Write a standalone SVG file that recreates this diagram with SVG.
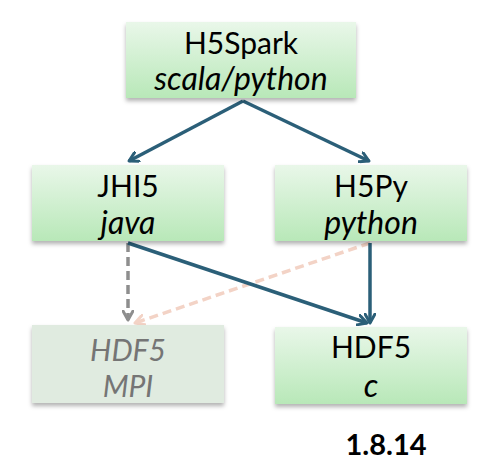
<svg xmlns="http://www.w3.org/2000/svg" width="488" height="474" viewBox="0 0 488 474">
<defs>
<linearGradient id="g" x1="0" y1="0" x2="0" y2="1">
<stop offset="0" stop-color="#e9f7e9"/>
<stop offset="1" stop-color="#b8e8b8"/>
</linearGradient>
<filter id="sh" x="-10%" y="-10%" width="120%" height="130%">
<feDropShadow dx="0" dy="3" stdDeviation="2" flood-color="#000" flood-opacity="0.3"/>
</filter>
<marker id="ah" markerWidth="12" markerHeight="12" refX="10" refY="6" orient="auto" markerUnits="userSpaceOnUse">
<path d="M1,1 L10,6 L1,11" fill="none" stroke="#2b5f78" stroke-width="3" stroke-linecap="round" stroke-linejoin="round"/>
</marker>
<marker id="ahg" markerWidth="12" markerHeight="12" refX="10" refY="6" orient="auto" markerUnits="userSpaceOnUse">
<path d="M1,1 L10,6 L1,11" fill="none" stroke="#8e8e8e" stroke-width="3" stroke-linecap="round" stroke-linejoin="round"/>
</marker>
<marker id="ahp" markerWidth="12" markerHeight="12" refX="10" refY="6" orient="auto" markerUnits="userSpaceOnUse">
<path d="M1,1 L10,6 L1,11" fill="none" stroke="#f3d3c6" stroke-width="3" stroke-linecap="round" stroke-linejoin="round"/>
</marker>
</defs>
<style>
.box{fill:url(#g);filter:url(#sh);}
.mpi{fill:#e0ebe0;filter:url(#sh);}
text{font-family:Lato,"Liberation Sans",sans-serif;font-size:30px;text-anchor:middle;fill:#000;}
.it{font-style:italic;font-size:32px;}
.gr{fill:#757575;font-size:30px;}
.c{fill:none;stroke:#2b5f78;stroke-width:3.5;}
.ver{font-size:29px;font-weight:bold;}
</style>
<g id="connectors">
<line class="c" x1="243" y1="101" x2="129" y2="161" marker-end="url(#ah)"/>
<line class="c" x1="243" y1="101" x2="369" y2="161" marker-end="url(#ah)"/>
<line x1="128" y1="243" x2="128" y2="320" stroke="#8e8e8e" stroke-width="3.5" stroke-dasharray="9,5" marker-end="url(#ahg)"/>
<line x1="370" y1="243" x2="135" y2="323" stroke="#f3d3c6" stroke-width="3.5" stroke-dasharray="9,5" marker-end="url(#ahp)"/>
<line class="c" x1="128" y1="243" x2="367" y2="323" marker-end="url(#ah)"/>
<line class="c" x1="370" y1="243" x2="370" y2="323" marker-end="url(#ah)"/>
</g>
<g id="h5spark">
<rect class="box" x="126" y="22" width="230" height="76"/>
<text x="241" y="54">H5Spark</text>
<text class="it" x="241" y="90">scala/python</text>
</g>
<g id="jhi5">
<rect class="box" x="32" y="165" width="192" height="76"/>
<text x="128" y="197">JHI5</text>
<text class="it" x="128" y="234">java</text>
</g>
<g id="h5py">
<rect class="box" x="275" y="165" width="192" height="76"/>
<text x="371" y="197">H5Py</text>
<text class="it" x="371" y="234">python</text>
</g>
<g id="hdf5mpi">
<rect class="mpi" x="32" y="325" width="192" height="78"/>
<text class="it gr" x="128" y="361">HDF5</text>
<text class="it gr" x="128" y="397">MPI</text>
</g>
<g id="hdf5c">
<rect class="box" x="275" y="327" width="192" height="77"/>
<text x="371" y="358">HDF5</text>
<text class="it" x="371" y="397">c</text>
</g>
<text class="ver" x="386" y="455">1.8.14</text>
</svg>
